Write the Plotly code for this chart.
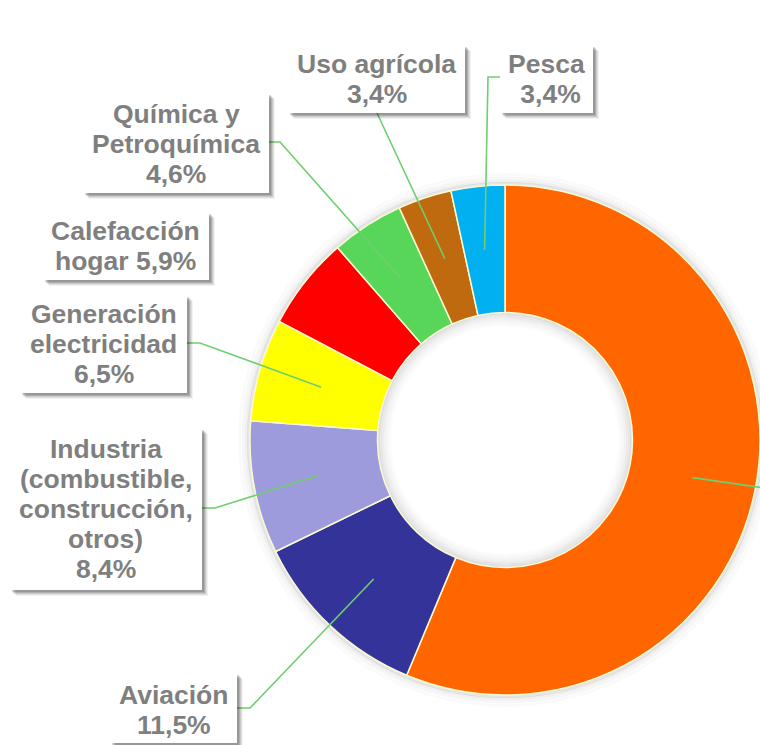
import math
import plotly.graph_objects as go

# ---------------- data ----------------
categories = ["Transporte por carretera", "Aviación",
              "Industria (combustible, construcción, otros)",
              "Generación electricidad", "Calefacción hogar",
              "Química y Petroquímica", "Uso agrícola", "Pesca"]
values = [56.3, 11.5, 8.4, 6.5, 5.9, 4.6, 3.4, 3.4]
label_lines = [
    None,
    ["Aviación", "11,5%"],
    ["Industria", "(combustible,", "construcción,", "otros)", "8,4%"],
    ["Generación", "electricidad", "6,5%"],
    ["Calefacción", "hogar 5,9%"],
    ["Química y", "Petroquímica", "4,6%"],
    ["Uso agrícola", "3,4%"],
    ["Pesca", " 3,4%"],
]
colors = ["#FF6600", "#333399", "#9D9BDC", "#FFFF00", "#FF0000",
          "#58D65A", "#BF6A0F", "#00B0F0"]

# ---------------- layout (pixels) ----------------
W, H = 760, 745
CX, CY, R = 505, 440, 255
HOLE = 0.5
# label boxes: (x0, x1, y0, y1), first line centre y, connector start (x, y) and elbow x
boxes = [
    None,
    (110, 237, 673, 743, 695, (237, 708), 250),
    (10, 202, 428, 590, 449, (202, 508), 215),
    (20, 187, 295, 393, 314, (187, 343), 200),
    (43, 209, 212, 280, 231, None, None),
    (83, 269, 93, 193, 114, (269, 142), 280),
    (288, 465, 45, 113, 64, (377, 113), None),
    (500, 593, 45, 113, 64, (500, 77), 488),
]
LINE_SP = 30


def px(x):
    return x / W


def py(y):
    return 1 - y / H


fig = go.Figure()

# soft shadows around the ring (drawn below the pie)
shapes = []
for k, a in [(1.5, 0.10), (4.0, 0.06), (7.0, 0.035), (10.5, 0.018)]:
    r = R + k
    shapes.append(dict(type="circle", xref="paper", yref="paper", layer="below",
                       x0=px(CX - r), x1=px(CX + r), y0=py(CY + r), y1=py(CY - r),
                       line=dict(color=f"rgba(0,0,0,{a})", width=3)))
rh = R * HOLE
for k, a in [(1.0, 0.12), (3.0, 0.09), (5.0, 0.07), (7.0, 0.05), (9.0, 0.035),
             (11.0, 0.022), (13.0, 0.012)]:
    r = rh - k
    shapes.append(dict(type="circle", xref="paper", yref="paper", layer="below",
                       x0=px(CX - r), x1=px(CX + r), y0=py(CY + r), y1=py(CY - r),
                       line=dict(color=f"rgba(0,0,0,{a})", width=2.2)))

fig.add_trace(go.Pie(
    labels=categories, values=values, sort=False, direction="clockwise",
    rotation=0, hole=HOLE, textinfo="none", hoverinfo="label+percent",
    marker=dict(colors=colors, line=dict(color="#FAFAD2", width=1.5)),
    domain=dict(x=[px(CX - R), px(CX + R)], y=[py(CY + R), py(CY - R)]),
    showlegend=False,
))

# connector lines from label to slice middle
total = sum(values)
cum = 0.0
rmid = (R + rh) / 2
annotations = []
for i, v in enumerate(values):
    mid = (cum + v / 2) / total
    cum += v
    ang = 2 * math.pi * mid
    ex = CX + rmid * math.sin(ang)
    ey = CY - rmid * math.cos(ang)
    b = boxes[i]
    if b is None:
        # label of largest slice lies outside the visible area
        pts = [(ex, ey), (ex + 90, ey + 13)]
    else:
        start, elbow = b[5], b[6]
        if start is None:
            pts = None
        elif elbow is None:
            pts = [start, (ex, ey)]
        else:
            pts = [start, (elbow, start[1]), (ex, ey)]
    if pts:
        path = "M " + " L ".join(f"{px(x):.5f},{py(y):.5f}" for x, y in pts)
        shapes.append(dict(type="path", xref="paper", yref="paper", path=path,
                           line=dict(color="#6FCF6F", width=1.6), layer="above"))

# label boxes with shadows and text
for i, b in enumerate(boxes):
    if b is None:
        continue
    x0, x1, y0, y1, ly = b[0], b[1], b[2], b[3], b[4]
    for off, a in [(6, 0.05), (5, 0.07), (4, 0.10), (3, 0.12), (2, 0.14)]:
        shapes.append(dict(type="rect", xref="paper", yref="paper", layer="above",
                           x0=px(x0 + off), x1=px(x1 + off), y0=py(y1 + off), y1=py(y0 + off),
                           line=dict(width=0), fillcolor=f"rgba(0,0,0,{a})"))
    shapes.append(dict(type="rect", xref="paper", yref="paper", layer="above",
                       x0=px(x0), x1=px(x1), y0=py(y1), y1=py(y0),
                       line=dict(width=0), fillcolor="white"))
    for j, t in enumerate(label_lines[i]):
        annotations.append(dict(
            xref="paper", yref="paper", x=px((x0 + x1) / 2), y=py(ly + j * LINE_SP),
            xanchor="center", yanchor="middle", showarrow=False,
            text=f"<b>{t}</b>",
            font=dict(family="Liberation Sans, Arial, sans-serif", size=26.5, color="#7F7F7F")))

fig.update_layout(
    width=W, height=H, margin=dict(l=0, r=0, t=0, b=0),
    paper_bgcolor="white", plot_bgcolor="white",
    shapes=shapes, annotations=annotations, showlegend=False,
)

fig.write_html("out.html", config={"displayModeBar": False},
               post_script="document.body.style.margin='0';document.body.style.overflow='hidden';")
